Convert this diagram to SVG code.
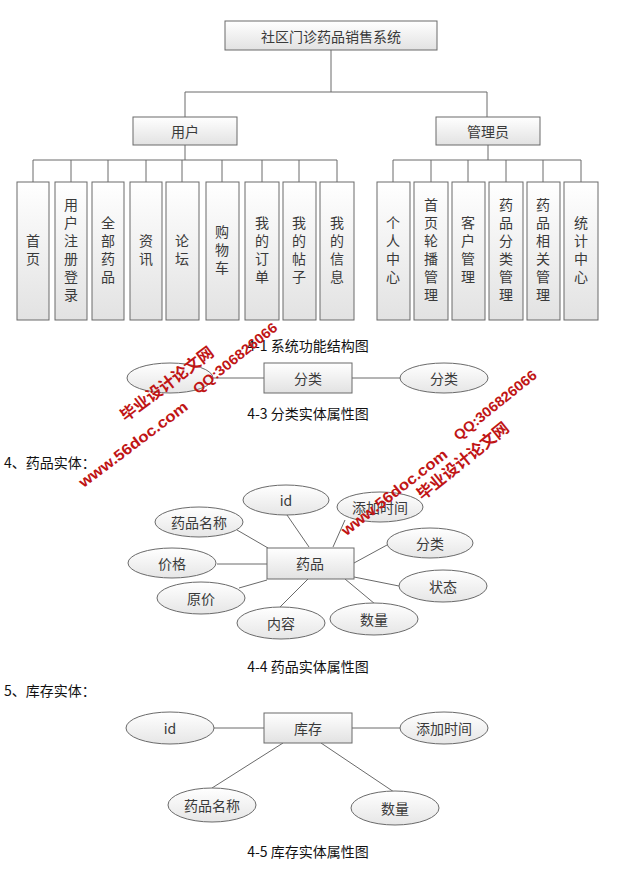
<svg xmlns="http://www.w3.org/2000/svg" width="638" height="871" viewBox="0 0 638 871">
<defs>
<linearGradient id="gb" x1="0" y1="0" x2="0" y2="1">
<stop offset="0" stop-color="#ffffff"/>
<stop offset="1" stop-color="#e2e2e2"/>
</linearGradient>
<linearGradient id="ge" x1="0" y1="0" x2="0" y2="1">
<stop offset="0" stop-color="#ffffff"/>
<stop offset="1" stop-color="#e6e6e6"/>
</linearGradient>
<style>
.box{fill:url(#gb);stroke:#6a6a6a;stroke-width:1}
.ell{fill:url(#ge);stroke:#6a6a6a;stroke-width:1}
.ln{stroke:#6a6a6a;stroke-width:1;fill:none}
.t{font-family:"Noto Sans CJK SC","Liberation Sans",sans-serif;font-size:14px;fill:#3a3a3a;text-anchor:middle;dominant-baseline:central}
.v{font-family:"Noto Sans CJK SC","Liberation Sans",sans-serif;font-size:14px;fill:#3a3a3a;text-anchor:middle;writing-mode:vertical-rl;letter-spacing:4px}
.cap{font-family:"Noto Sans CJK SC","Liberation Sans",sans-serif;font-size:14px;fill:#111;text-anchor:middle;dominant-baseline:central}
.hd{font-family:"Noto Sans CJK SC","Liberation Sans",sans-serif;font-size:14px;fill:#111;dominant-baseline:central}
.wm{font-family:"Liberation Sans","Noto Sans CJK SC",sans-serif;font-weight:bold;fill:#c01515;text-anchor:middle;dominant-baseline:central}
</style>
</defs>

<g id="connectors">
<path class="ln" d="M331,50 V92 M185,92 H487 M185,92 V117 M487,92 V117"/>
<path class="ln" d="M185,145 V160 M33,160 H337 M33,160 V182 M71,160 V182 M108,160 V182 M146,160 V182 M182,160 V182 M222,160 V182 M262,160 V182 M299,160 V182 M337,160 V182"/>
<path class="ln" d="M488,145 V160 M393,160 H581 M393,160 V182 M431,160 V182 M468,160 V182 M506,160 V182 M543,160 V182 M581,160 V182"/>
<path class="ln" d="M213,378 H264 M352,378 H401"/>
<path class="ln" d="M237,530 L268,548 M287,515 L309,547 M345,520 L333,547 M387,545 L354,563 M217,564 H267 M354,577 L399,586 M239,588 L267,580 M345,579 L375,604 M308,579 L280,607"/>
<path class="ln" d="M214,728 H264 M352,728 H401 M283,743 L212,788 M321,743 L394,792"/>
</g>

<g id="root"><rect class="box" x="225" y="21" width="212" height="29"/><text class="t" x="331" y="36">社区门诊药品销售系统</text></g>
<g id="user"><rect class="box" x="133" y="117" width="104" height="28"/><text class="t" x="185" y="131">用户</text></g>
<g id="admin"><rect class="box" x="436" y="117" width="104" height="28"/><text class="t" x="488" y="131">管理员</text></g>

<g id="u1"><rect class="box" x="17" y="182" width="32" height="138"/><text class="v" x="33" y="252">首页</text></g>
<g id="u2"><rect class="box" x="55" y="182" width="32" height="138"/><text class="v" x="71" y="252">用户注册登录</text></g>
<g id="u3"><rect class="box" x="92" y="182" width="32" height="138"/><text class="v" x="108" y="252">全部药品</text></g>
<g id="u4"><rect class="box" x="130" y="182" width="32" height="138"/><text class="v" x="146" y="252">资讯</text></g>
<g id="u5"><rect class="box" x="166" y="182" width="33" height="138"/><text class="v" x="182" y="252">论坛</text></g>
<g id="u6"><rect class="box" x="206" y="182" width="33" height="138"/><text class="v" x="222" y="252">购物车</text></g>
<g id="u7"><rect class="box" x="245" y="182" width="34" height="138"/><text class="v" x="262" y="252">我的订单</text></g>
<g id="u8"><rect class="box" x="283" y="182" width="33" height="138"/><text class="v" x="299" y="252">我的帖子</text></g>
<g id="u9"><rect class="box" x="320" y="182" width="34" height="138"/><text class="v" x="337" y="252">我的信息</text></g>

<g id="a1"><rect class="box" x="377" y="182" width="33" height="138"/><text class="v" x="393" y="252">个人中心</text></g>
<g id="a2"><rect class="box" x="414" y="182" width="34" height="138"/><text class="v" x="431" y="252">首页轮播管理</text></g>
<g id="a3"><rect class="box" x="452" y="182" width="33" height="138"/><text class="v" x="468" y="252">客户管理</text></g>
<g id="a4"><rect class="box" x="489" y="182" width="34" height="138"/><text class="v" x="506" y="252">药品分类管理</text></g>
<g id="a5"><rect class="box" x="527" y="182" width="33" height="138"/><text class="v" x="543" y="252">药品相关管理</text></g>
<g id="a6"><rect class="box" x="564" y="182" width="34" height="138"/><text class="v" x="581" y="252">统计中心</text></g>

<text class="cap" x="308" y="345">4-1 系统功能结构图</text>

<g id="c-left"><ellipse class="ell" cx="170" cy="378" rx="43" ry="15"/></g>
<g id="c-box"><rect class="box" x="264" y="363" width="88" height="30"/><text class="t" x="308" y="378">分类</text></g>
<g id="c-right"><ellipse class="ell" cx="444" cy="378" rx="44" ry="15"/><text class="t" x="444" y="378">分类</text></g>
<text class="cap" x="308" y="413">4-3 分类实体属性图</text>

<text class="hd" x="4" y="462">4、药品实体：</text>

<g id="m-id"><ellipse class="ell" cx="286" cy="500" rx="43" ry="15"/><text class="t" x="286" y="500">id</text></g>
<g id="m-time"><ellipse class="ell" cx="380" cy="507" rx="43" ry="15"/><text class="t" x="380" y="507">添加时间</text></g>
<g id="m-name"><ellipse class="ell" cx="199" cy="522" rx="44" ry="15"/><text class="t" x="199" y="522">药品名称</text></g>
<g id="m-cat"><ellipse class="ell" cx="430" cy="543" rx="43" ry="15"/><text class="t" x="430" y="543">分类</text></g>
<g id="m-price"><ellipse class="ell" cx="172" cy="563" rx="44" ry="15"/><text class="t" x="172" y="563">价格</text></g>
<g id="m-box"><rect class="box" x="267" y="548" width="87" height="31"/><text class="t" x="310" y="563">药品</text></g>
<g id="m-state"><ellipse class="ell" cx="443" cy="586" rx="44" ry="16"/><text class="t" x="443" y="586">状态</text></g>
<g id="m-orig"><ellipse class="ell" cx="201" cy="598" rx="44" ry="16"/><text class="t" x="201" y="598">原价</text></g>
<g id="m-qty"><ellipse class="ell" cx="374" cy="619" rx="44" ry="16"/><text class="t" x="374" y="619">数量</text></g>
<g id="m-content"><ellipse class="ell" cx="281" cy="623" rx="44" ry="16"/><text class="t" x="281" y="623">内容</text></g>
<text class="cap" x="308" y="666">4-4 药品实体属性图</text>

<text class="hd" x="4" y="690">5、库存实体：</text>

<g id="s-id"><ellipse class="ell" cx="170" cy="728" rx="44" ry="16"/><text class="t" x="170" y="728">id</text></g>
<g id="s-box"><rect class="box" x="264" y="713" width="88" height="30"/><text class="t" x="308" y="728">库存</text></g>
<g id="s-time"><ellipse class="ell" cx="444" cy="728" rx="44" ry="16"/><text class="t" x="444" y="728">添加时间</text></g>
<g id="s-name"><ellipse class="ell" cx="212" cy="805" rx="44" ry="17"/><text class="t" x="212" y="805">药品名称</text></g>
<g id="s-qty"><ellipse class="ell" cx="395" cy="808" rx="44" ry="17"/><text class="t" x="395" y="808">数量</text></g>
<text class="cap" x="308" y="851">4-5 库存实体属性图</text>

<g id="watermark">
<text class="wm" font-size="16" transform="translate(167,384) rotate(-37)" textLength="112" lengthAdjust="spacingAndGlyphs">毕业设计论文网</text>
<text class="wm" font-size="15" transform="translate(133,444) rotate(-37)" textLength="132" lengthAdjust="spacingAndGlyphs">www.56doc.com</text>
<text class="wm" font-size="14" transform="translate(235,358) rotate(-39)" textLength="104" lengthAdjust="spacingAndGlyphs">QQ:306826066</text>
<text class="wm" font-size="16" transform="translate(463,461) rotate(-39)" textLength="113" lengthAdjust="spacingAndGlyphs">毕业设计论文网</text>
<text class="wm" font-size="15" transform="translate(394,492) rotate(-38)" textLength="130" lengthAdjust="spacingAndGlyphs">www.56doc.com</text>
<text class="wm" font-size="14" transform="translate(495,405) rotate(-39)" textLength="102" lengthAdjust="spacingAndGlyphs">QQ:306826066</text>
</g>
</svg>
